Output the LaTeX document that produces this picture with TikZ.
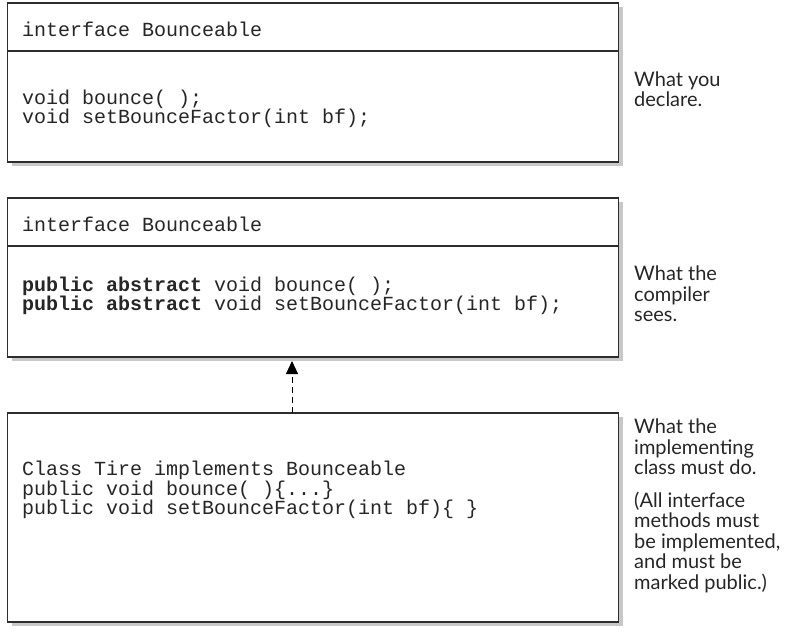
\documentclass[tikz,border=0pt]{standalone}
\usepackage{fontspec}
\setmainfont{Lato}
\setmonofont{Liberation Mono}
\usetikzlibrary{arrows.meta,shapes,positioning,shadows}
\definecolor{boxline}{RGB}{45,45,45}
\definecolor{boxshade}{RGB}{200,200,200}
\tikzstyle{umlbox} = [draw=boxline, line width=1.3pt, fill=white, minimum width=611pt, inner sep=0pt, outer sep=0pt, drop shadow={shadow xshift=4pt, shadow yshift=-4pt, fill=boxshade, opacity=1}]
\tikzstyle{code} = [font=\ttfamily\fontsize{20}{19.5}\selectfont, text=black!85, align=left, inner sep=0pt, anchor=west]
\tikzstyle{note} = [font=\fontsize{20}{20.5}\selectfont, text=black!85, align=left, inner sep=0pt, anchor=west]
\tikzstyle{implements} = [line width=1pt, dash pattern=on 6pt off 4pt, -{Triangle[width=12pt,length=13pt]}]

\begin{document}
\begin{tikzpicture}[x=1pt, y=-1pt]
\useasboundingbox (0,0) rectangle (800,630);

% What you declare
\node[umlbox, minimum height=48pt] (decl head) at (313,27) {};
\node[umlbox, minimum height=111pt, below=0pt of decl head] (decl body) {};
\node[code] (decl name) at (22,29) {interface Bounceable};
\node[code] (decl code) at (22,109) {void bounce( );\\void setBounceFactor(int bf);};
\node[note] (decl note) at (634,89) {What you\\declare.};

% What the compiler sees
\node[umlbox, minimum height=48pt] (seen head) at (313,222) {};
\node[umlbox, minimum height=111pt, below=0pt of seen head] (seen body) {};
\node[code] (seen name) at (22,224) {interface Bounceable};
\node[code] (seen code) at (22,296) {\textbf{public abstract} void bounce( );\\\textbf{public abstract} void setBounceFactor(int bf);};
\node[note] (seen note) at (634,294) {What the\\compiler\\sees.};

% What the implementing class must do
\node[umlbox, minimum width=611pt, minimum height=209pt] (tire box) at (313,517.5) {};
\node[code] (tire code) at (22,490) {Class Tire implements Bounceable\\public void bounce( )\{...\}\\public void setBounceFactor(int bf)\{ \}};
\node[note, anchor=north west] (tire note) at (634,419) {What the\\implementing\\class must do.};
\node[note, below=16pt of tire note.south west, anchor=north west] (rule note) {(All interface\\methods must\\be implemented,\\and must be\\marked public.)};

% realisation arrow
\draw[implements] ([xshift=-21pt]tire box.north) -- ([xshift=-21pt, yshift=-4pt]seen body.south);
\end{tikzpicture}
\end{document}
